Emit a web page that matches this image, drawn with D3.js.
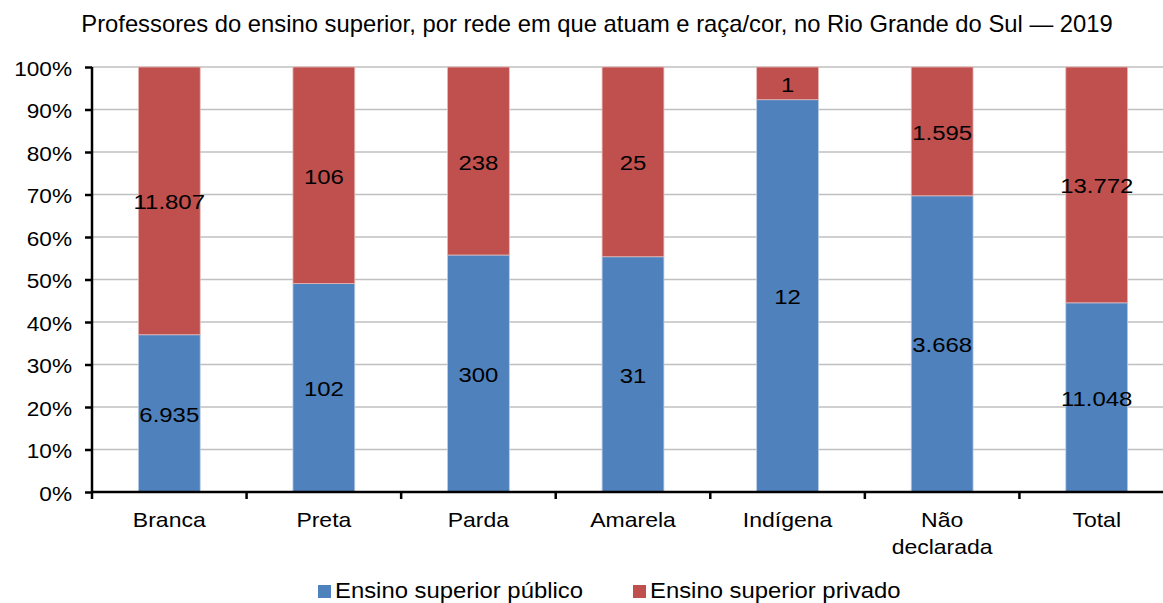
<!DOCTYPE html>
<html><head><meta charset="utf-8">
<script src="https://cdn.jsdelivr.net/npm/d3@7"></script>
<style>body{margin:0;background:#fff;}svg{display:block;font-family:"Liberation Sans",Arial,sans-serif;}</style>
</head><body><svg id="c" width="1163" height="603"></svg>
<script>
const categories = ["Branca","Preta","Parda","Amarela","Indígena","Não declarada","Total"];
const publico = [6935,102,300,31,12,3668,11048];
const privado = [11807,106,238,25,1,1595,13772];
const seriesNames = ["Ensino superior público","Ensino superior privado"];
const colors = ["#4F81BD","#C0504D"];
const yTicks = [0,0.1,0.2,0.3,0.4,0.5,0.6,0.7,0.8,0.9,1];
const title = "Professores do ensino superior, por rede em que atuam e raça/cor, no Rio Grande do Sul — 2019";

(function(){
const svg = d3.select("#c");
const L = 92, R = 1174, T = 67, B = 492;
const x = d3.scaleBand().domain(categories).range([L,R]).paddingInner(0.6).paddingOuter(0.3);
const xb = d3.scaleBand().domain(categories).range([L,R]);
const y = d3.scaleLinear().domain([0,1]).range([B,T]);
const fmt = d3.formatLocale({decimal:",",thousands:".",grouping:[3],currency:["",""]}).format(",d");

function stext(parent, px, py, sx, size, anchor, txt){
  const t = parent.append("g").attr("transform",`translate(${px},${py}) scale(${sx},1)`)
    .append("text").attr("x",0).attr("y",0).attr("text-anchor",anchor).style("font-size",size+"px").attr("fill","#000").text(txt);
  return t;
}

stext(svg, 597, 32, 1.035, 23, "middle", title);

// gridlines
svg.append("g").selectAll("line").data(yTicks.slice(1)).join("line")
  .attr("x1",L).attr("x2",1163).attr("y1",d=>y(d)).attr("y2",d=>y(d))
  .attr("stroke","#c0c0c0").attr("stroke-width",1.3);

const rows = categories.map((c,i)=>({c, pub:publico[i], priv:privado[i], t:publico[i]+privado[i]}));
const g = svg.append("g");
rows.forEach(r=>{
  const p = r.pub/r.t;
  g.append("rect").attr("x",x(r.c)).attr("width",x.bandwidth())
    .attr("y",y(p)).attr("height",y(0)-y(p)).attr("fill",colors[0]).attr("stroke","#b9cde5").attr("stroke-width",0.8);
  g.append("rect").attr("x",x(r.c)).attr("width",x.bandwidth())
    .attr("y",y(1)).attr("height",y(p)-y(1)).attr("fill",colors[1]).attr("stroke","#e6b9b8").attr("stroke-width",0.8);
});
rows.forEach(r=>{
  const p = r.pub/r.t;
  const cx = x(r.c)+x.bandwidth()/2;
  stext(g, cx, (y(0)+y(p))/2+8.5, 1.14, 21, "middle", fmt(r.pub));
  stext(g, cx, (y(1)+y(p))/2+8.5, 1.14, 21, "middle", fmt(r.priv));
});

// y axis
const ya = svg.append("g").attr("transform",`translate(${L},0)`)
  .call(d3.axisLeft(y).tickValues(yTicks).tickFormat(d3.format(".0%")).tickSize(7));
ya.select(".domain").attr("stroke","#000").attr("stroke-width",2.5).attr("d",`M0,${B}V${T}`);
ya.selectAll(".tick line").attr("stroke","#000").attr("stroke-width",2.5);
ya.selectAll(".tick text").remove();
const yfmt = d3.format(".0%");
yTicks.forEach(v=>stext(svg, 72, y(v)+8.5, 1.16, 19.5, "end", yfmt(v)));

// x axis
svg.append("line").attr("x1",L).attr("x2",1163).attr("y1",B).attr("y2",B).attr("stroke","#000").attr("stroke-width",2.5);
svg.append("g").selectAll("line").data(categories).join("line")
  .attr("x1",d=>xb(d)).attr("x2",d=>xb(d)).attr("y1",B).attr("y2",B+7)
  .attr("stroke","#000").attr("stroke-width",2.5);
categories.forEach(d=>{
  const parts = d === "Não declarada" ? ["Não","declarada"] : [d];
  parts.forEach((p,i)=>stext(svg, xb(d)+xb.bandwidth()/2, 527+i*27, 1.15, 20, "middle", p));
});

// legend
const leg = [{x:318,i:0},{x:633,i:1}];
leg.forEach(l=>{
  svg.append("rect").attr("x",l.x).attr("y",585).attr("width",13).attr("height",13).attr("fill",colors[l.i]);
  stext(svg, l.x+17, 598, 1.11, 21.5, "start", seriesNames[l.i]);
});
})();
</script></body></html>
